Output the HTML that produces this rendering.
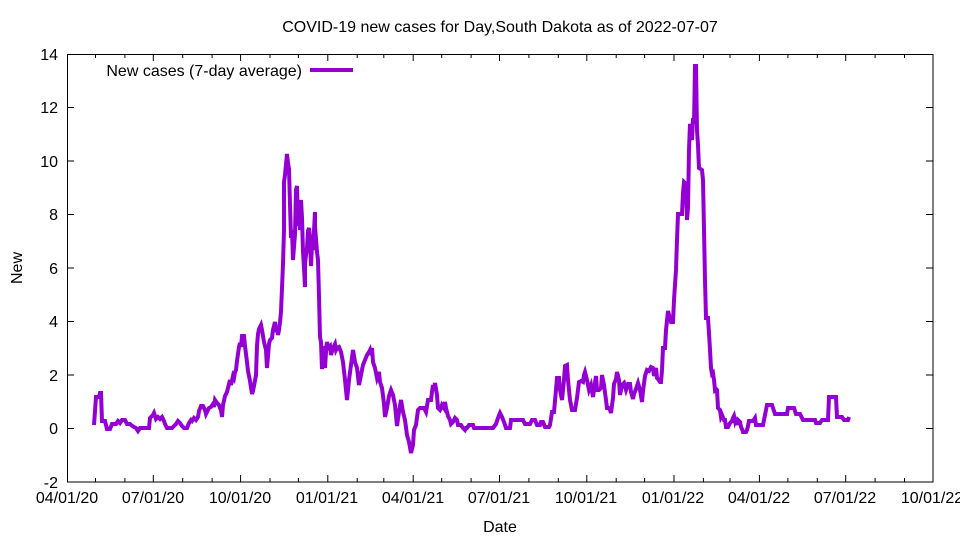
<!DOCTYPE html>
<html><head><meta charset="utf-8"><style>
html,body{margin:0;padding:0;background:#fff;}
svg text{font-family:"Liberation Sans",Arial,sans-serif;font-size:16px;fill:#000;}
</style></head><body>
<svg width="960" height="540" viewBox="0 0 960 540" xmlns="http://www.w3.org/2000/svg">
<rect width="960" height="540" fill="#fff"/>
<text x="500" y="32" text-anchor="middle">COVID-19 new cases for Day,South Dakota as of 2022-07-07</text>
<g stroke="#000" stroke-width="1" fill="none">
<rect x="67.5" y="54.5" width="865.5" height="427.5"/>
<path d="M67 54.5h7M67 107.5h7M67 161h7M67 214.5h7M67 268h7M67 321.5h7M67 375h7M67 428.5h7M67 482h7
M933 54.5h-7M933 107.5h-7M933 161h-7M933 214.5h-7M933 268h-7M933 321.5h-7M933 375h-7M933 428.5h-7M933 482h-7"/>
<path d="M153.3 482v-7M240.6 482v-7M327.8 482v-7M413.2 482v-7M499.5 482v-7M586.8 482v-7M674 482v-7M759.4 482v-7M845.7 482v-7
M153.3 54v7M240.6 54v7M327.8 54v7M413.2 54v7M499.5 54v7M586.8 54v7M674 54v7M759.4 54v7M845.7 54v7
M95.5 482v-4M124.9 482v-4M182.7 482v-4M212.1 482v-4M270 482v-4M298.4 482v-4M357.2 482v-4M383.8 482v-4M441.7 482v-4M471.1 482v-4M528.9 482v-4M558.3 482v-4M616.2 482v-4M644.6 482v-4M703.4 482v-4M730 482v-4M787.9 482v-4M817.3 482v-4M875.1 482v-4M904.5 482v-4
M95.5 54v4M124.9 54v4M182.7 54v4M212.1 54v4M270 54v4M298.4 54v4M357.2 54v4M383.8 54v4M441.7 54v4M471.1 54v4M528.9 54v4M558.3 54v4M616.2 54v4M644.6 54v4M703.4 54v4M730 54v4M787.9 54v4M817.3 54v4M875.1 54v4M904.5 54v4"/>
</g>
<g text-anchor="end">
<text x="58" y="60">14</text><text x="58" y="113">12</text><text x="58" y="167">10</text><text x="58" y="220">8</text>
<text x="58" y="274">6</text><text x="58" y="327">4</text><text x="58" y="381">2</text><text x="58" y="434">0</text><text x="58" y="488">-2</text>
</g>
<g text-anchor="middle">
<text x="67" y="503">04/01/20</text><text x="153" y="503">07/01/20</text><text x="240" y="503">10/01/20</text><text x="327" y="503">01/01/21</text>
<text x="413" y="503">04/01/21</text><text x="499" y="503">07/01/21</text><text x="586" y="503">10/01/21</text><text x="673" y="503">01/01/22</text>
<text x="759" y="503">04/01/22</text><text x="845" y="503">07/01/22</text><text x="932" y="503">10/01/22</text>
<text x="500" y="532">Date</text>
<text transform="translate(22,268) rotate(-90)">New</text>
</g>
<text x="302" y="76" text-anchor="end">New cases (7-day average)</text>
<line x1="310" y1="70" x2="353" y2="70" stroke="#9400d3" stroke-width="4"/>
<polyline fill="none" stroke="#9400d3" stroke-width="4" stroke-linejoin="miter" points="
94,425 96,397 99,397 100,393 101,393 102,421 105,421 107,429 110,429 112,424 116,424 118,421 120,423 122,420 125,420 127,424 130,424 131,425 134,427 136,428 138,431 140,428 147,428 149,428 150,418 153,415 154,413 156,419 158,417 160,419 162,417 164,421 165,424 167,428 172,428 173,427 176,424 178,421 180,423 182,426 184,428 187,428 189,423 191,420 192,421 194,418 196,420 198,417 199,411 201,406 203,406 205,410 206,414 208,410 209,408 211,407 213,404 214,407 215,400 217,403 219,405 220,408 221,410 222,417 223,405 225,396 227,392 229,384 230,380 231,385 233,376 234,378 235,372 236,370 237,361 239,347 240,343 241,347 242,336 244,336 245,346 247,362 248,371 250,381 252,394 253,391 254,386 256,375 257,346 258,334 259,329 261,325 262,330 263,336 264,342 266,350 267,368 269,344 270,340 272,338 273,330 275,322 276,332 277,327 278,335 279,330 280,322 281,312 283,264 284,230 284,182 285,175 287,154 288,163 289,169 290,204 291,238 292,230 293,260 295,234 296,190 297,186 298,226 299,211 300,230 301,200 302,218 303,252 304,268 305,287 305,263 307,248 308,231 309,228 310,238 311,266 312,245 313,250 315,212 315,226 317,252 318,260 319,296 320,337 321,342 322,369 323,362 324,346 325,368 326,352 327,342 328,348 330,346 331,355 333,348 335,344 336,350 337,348 339,347 341,352 343,362 345,380 347,400 349,380 351,365 353,350 355,362 357,368 359,385 361,375 363,365 365,360 367,355 369,352 370,350 371,355 372,348 373,362 375,368 377,378 379,372 380,382 382,388 384,404 385,417 387,408 389,396 391,390 393,395 395,405 397,426 399,412 401,400 403,412 405,420 407,435 409,442 411,453 413,445 414,430 416,425 418,410 420,408 422,408 424,408 426,412 428,400 431,400 432,392 433,385 434,390 435,383 437,395 438,408 440,410 441,408 442,405 444,408 445,402 446,408 448,416 450,420 451,424 453,422 455,418 457,420 458,425 461,425 463,428 465,430 466,428 467,428 469,425 471,425 473,425 474,428 493,428 496,424 498,418 500,413 502,417 504,422 506,428 510,428 511,420 523,420 525,424 530,424 532,420 535,420 537,425 540,425 541,422 543,422 545,427 549,427 550,425 552,412 554,412 555,401 557,378 559,378 560,390 562,400 564,380 565,366 567,365 568,380 570,400 572,410 575,410 577,398 579,382 581,381 583,382 584,375 585,372 587,380 589,390 591,385 593,397 595,383 596,376 597,390 599,390 601,388 602,375 604,385 606,400 607,408 609,408 610,410 611,413 613,398 614,384 616,379 617,372 619,380 620,395 622,385 624,383 626,390 628,384 630,384 631,392 633,399 634,394 636,389 637,386 638,383 640,390 642,402 643,391 645,376 647,370 649,371 651,367 653,368 654,376 655,372 656,368 657,378 658,379 660,382 661,382 662,370 663,348 665,348 666,330 668,311 671,322 673,322 674,300 676,270 677,240 678,214 682,214 683,193 684,182 686,184 687,220 688,208 689,150 690,124 691,128 692,140 693,118 694,124 695,66 696,66 697,130 698,145 699,168 702,170 703,180 704,230 705,280 706,318 708,318 709,333 710,350 711,368 712,374 713,373 714,380 715,390 716,389 717,390 718,408 720,410 721,417 722,415 724,420 725,420 726,427 728,427 730,423 732,421 733,418 734,416 735,421 736,418 737,425 738,420 740,422 741,427 742,429 743,432 745,432 746,432 747,430 748,426 749,421 753,421 755,418 756,425 763,425 764,420 767,405 772,405 775,414 787,414 788,408 794,408 796,414 800,414 803,420 815,420 816,423 820,423 822,420 828,420 829,397 836,397 837,417 842,417 844,420 848,420 849,417"/>
</svg>
</body></html>
